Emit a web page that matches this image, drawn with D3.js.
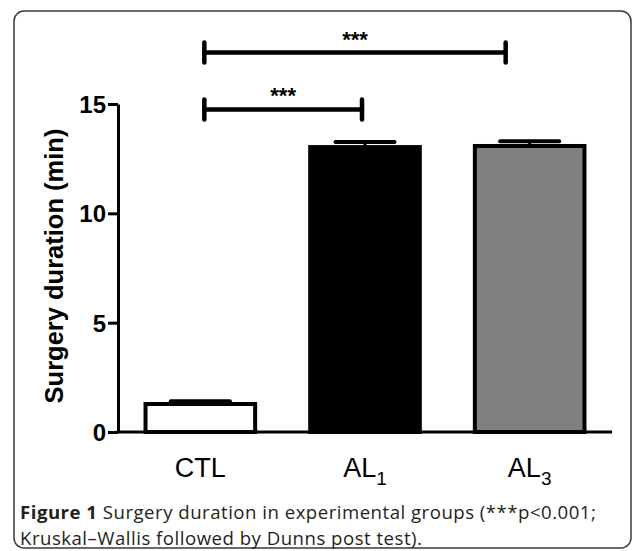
<!DOCTYPE html>
<html>
<head>
<meta charset="utf-8">
<script src="https://cdn.jsdelivr.net/npm/d3@7"></script>
<style>
  body { margin: 0; background: #fff; }
  svg text { font-family: "Liberation Sans", Arial, sans-serif; }
  .caption { font-family: "Open Sans", "Noto Sans", sans-serif; letter-spacing: 0.5px; }
</style>
</head>
<body>
<div id="chart"></div>
<script>
// dữ liệu
const groups = ["CTL", "AL1", "AL3"];
const groupLabels = [["CTL", ""], ["AL", "1"], ["AL", "3"]];
const means = [1.28, 13.03, 13.08];
const sems = [0.13, 0.23, 0.22];
const barColors = ["#ffffff", "#000000", "#808080"];
const yTicks = [0, 5, 10, 15];
const comparisons = [
  { from: "CTL", to: "AL1", yVal: 14.75, label: "***" },
  { from: "CTL", to: "AL3", yVal: 17.35, label: "***" }
];

const W = 633, H = 551;
const svg = d3.select("#chart").append("svg")
  .attr("width", W).attr("height", H);

// khung bo tròn
svg.append("rect")
  .attr("x", 14).attr("y", 11)
  .attr("width", 617).attr("height", 537)
  .attr("rx", 10)
  .attr("fill", "none")
  .attr("stroke", "#3a3a3a")
  .attr("stroke-width", 1.5);

const x = d3.scaleBand()
  .domain(groups)
  .range([118, 612])
  .paddingInner(0.31)
  .paddingOuter(0.155);

const y = d3.scaleLinear()
  .domain([0, 15])
  .range([432, 104]);

// trục Y
const yAxis = svg.append("g")
  .attr("transform", "translate(118,0)")
  .call(d3.axisLeft(y).tickValues(yTicks).tickSize(10).tickPadding(2).tickSizeOuter(0));
yAxis.select(".domain").attr("stroke", "#000").attr("stroke-width", 3);
yAxis.selectAll(".tick line").attr("stroke", "#000").attr("stroke-width", 3);
yAxis.selectAll(".tick text")
  .attr("fill", "#000")
  .style("font-size", "24px")
  .style("font-weight", "bold")
  .attr("dy", "0.36em");

// trục X
svg.append("line")
  .attr("x1", 116.5).attr("x2", 612)
  .attr("y1", y(0)).attr("y2", y(0))
  .attr("stroke", "#000").attr("stroke-width", 3);

// nhãn trục Y
svg.append("text")
  .attr("transform", `translate(63,${(127 + 405) / 2}) rotate(-90)`)
  .attr("text-anchor", "middle")
  .style("font-size", "25.5px")
  .style("font-weight", "bold")
  .text("Surgery duration (min)");

const data = groups.map((g, i) => ({ g, mean: means[i], sem: sems[i], color: barColors[i], lab: groupLabels[i] }));

// error bars (vẽ trước cột)
data.forEach(d => {
  const cx = x(d.g) + x.bandwidth() / 2;
  const capW = x.bandwidth() * 0.26;
  svg.append("line")
    .attr("x1", cx).attr("x2", cx)
    .attr("y1", y(d.mean)).attr("y2", y(d.mean + d.sem))
    .attr("stroke", "#000").attr("stroke-width", 3);
  svg.append("line")
    .attr("x1", cx - capW).attr("x2", cx + capW)
    .attr("y1", y(d.mean + d.sem)).attr("y2", y(d.mean + d.sem))
    .attr("stroke", "#000").attr("stroke-width", 4)
    .attr("stroke-linecap", "round");
});

// cột
svg.selectAll("rect.bar")
  .data(data)
  .enter().append("rect")
  .attr("class", "bar")
  .attr("x", d => x(d.g) + 2)
  .attr("y", d => y(d.mean))
  .attr("width", x.bandwidth() - 4)
  .attr("height", d => y(0) - y(d.mean))
  .attr("fill", d => d.color)
  .attr("stroke", "#000")
  .attr("stroke-width", 4);

// nhãn nhóm
data.forEach(d => {
  const t = svg.append("text")
    .attr("x", x(d.g) + x.bandwidth() / 2)
    .attr("y", 477)
    .attr("text-anchor", "middle")
    .style("font-size", "27px");
  t.append("tspan").text(d.lab[0]);
  if (d.lab[1]) {
    t.append("tspan").attr("dy", 8).style("font-size", "19px").text(d.lab[1]);
  }
});

// vạch so sánh ***
comparisons.forEach(c => {
  const x1 = x(c.from) + x.bandwidth() / 2 + 4;
  const x2 = c.to === "AL3" ? x(c.to) + x.bandwidth() / 2 - 24 : x(c.to) + x.bandwidth() / 2 - 3;
  const yy = y(c.yVal);
  const g = svg.append("g").attr("stroke", "#000").attr("stroke-width", 4.5).attr("stroke-linecap", "round");
  g.append("line").attr("x1", x1).attr("x2", x2).attr("y1", yy).attr("y2", yy);
  g.append("line").attr("x1", x1).attr("x2", x1).attr("y1", yy - 10).attr("y2", yy + 10);
  g.append("line").attr("x1", x2).attr("x2", x2).attr("y1", yy - 10).attr("y2", yy + 10);
  svg.append("text")
    .attr("x", (x1 + x2) / 2)
    .attr("y", yy - 6)
    .attr("text-anchor", "middle")
    .style("font-size", "22px")
    .style("font-weight", "bold")
    .text(c.label);
});

// chú thích hình
const cap1 = svg.append("text").attr("class", "caption")
  .attr("x", 20).attr("y", 519)
  .style("font-size", "18.6px").attr("fill", "#231f20");
cap1.append("tspan").style("font-weight", "bold").text("Figure 1");
cap1.append("tspan").text(" Surgery duration in experimental groups (***p<0.001;");
svg.append("text").attr("class", "caption")
  .attr("x", 20).attr("y", 545)
  .style("font-size", "18.6px").attr("fill", "#231f20")
  .text("Kruskal–Wallis followed by Dunns post test).");
</script>
</body>
</html>
